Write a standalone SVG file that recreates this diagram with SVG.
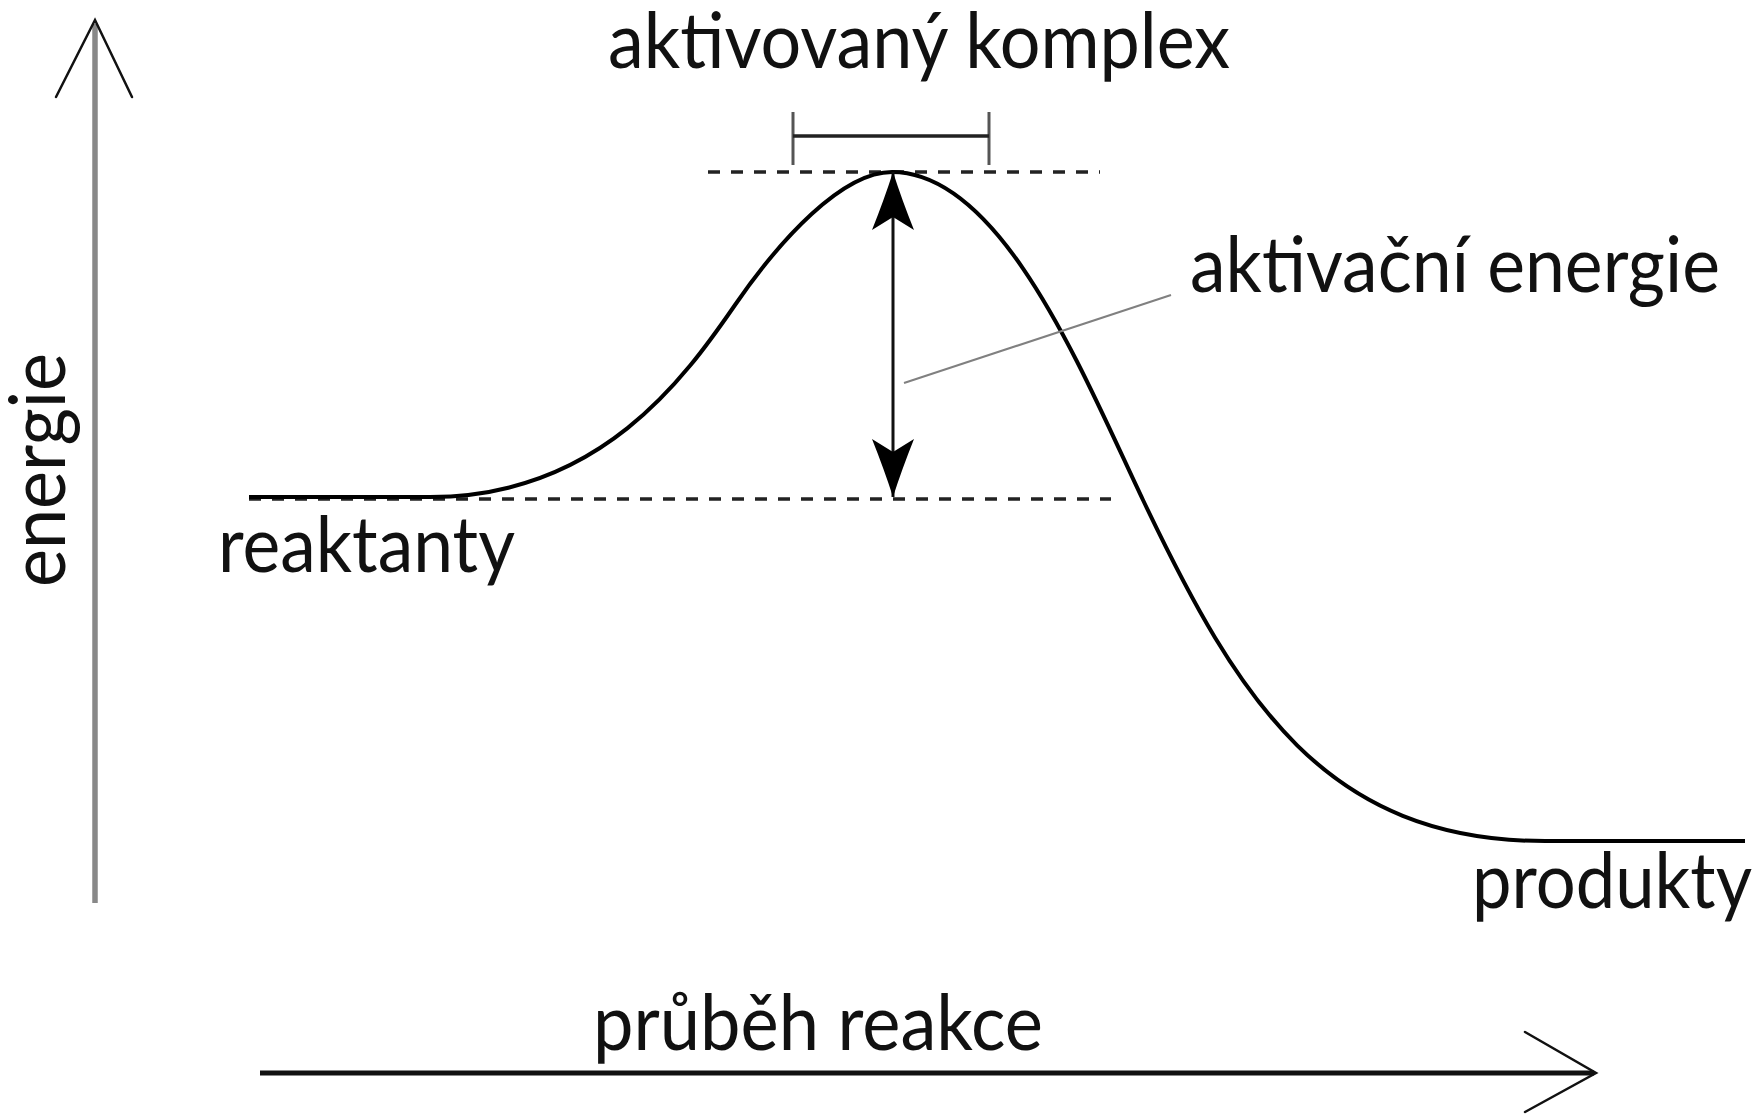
<svg xmlns="http://www.w3.org/2000/svg" width="1760" height="1114" viewBox="0 0 1760 1114">
  <style>
    .lbl { font-family: Lato, "Open Sans", "Noto Sans", sans-serif; font-size: 77px; fill: #111; }
    .curve { fill: none; stroke: #000; stroke-width: 4; stroke-linejoin: round; }
    .dash { fill: none; stroke: #222; stroke-width: 3.5; stroke-dasharray: 12 11; }
    .chev { fill: none; stroke: #111; stroke-width: 2.5; stroke-linecap: round; stroke-linejoin: miter; }
    .thin { fill: none; stroke: #111; stroke-width: 3; }
    .leader { fill: none; stroke: #808080; stroke-width: 2; }
    .tick { fill: none; stroke: #555; stroke-width: 3; }
  </style>
  <defs>
    <marker id="stealth" markerUnits="userSpaceOnUse" viewBox="0 0 60 42" markerWidth="60" markerHeight="42" refX="58" refY="21" orient="auto-start-reverse">
      <path d="M58,21 Q30,12 0,0 L13,21 L0,42 Q30,30 58,21 Z" fill="#000"/>
    </marker>
  </defs>
  <rect width="1760" height="1114" fill="#fff"/>

  <g id="connectors">
    <!-- vertical energy axis -->
    <line x1="95" y1="24" x2="95" y2="903" stroke="#888" stroke-width="5.5"/>
    <polyline class="chev" points="56,97 95,20 132,97"/>
    <!-- horizontal reaction progress axis -->
    <line x1="260" y1="1073" x2="1594" y2="1073" stroke="#111" stroke-width="5"/>
    <polyline class="chev" points="1525,1032 1596,1073 1525,1112"/>
    <!-- reference dashed levels -->
    <line class="dash" x1="708" y1="172" x2="1100" y2="172"/>
    <line class="dash" x1="249" y1="499" x2="1111" y2="499"/>
    <!-- energy profile curve -->
    <path class="curve" d="M249,497 L430,497 C600,497 685,377.5 735,305 C780,239.75 842,172 892,172 C1002,172 1083,374 1143,500 C1238,699.5 1325,841 1545,841 L1745,841"/>
    <!-- activation energy double arrow -->
    <line class="thin" x1="893" y1="497" x2="893" y2="172" marker-start="url(#stealth)" marker-end="url(#stealth)"/>
    <!-- leader line to label -->
    <line class="leader" x1="904" y1="383" x2="1171" y2="295"/>
    <!-- activated complex bracket -->
    <line class="tick" x1="793" y1="112" x2="793" y2="165"/>
    <line class="tick" x1="989" y1="112" x2="989" y2="165"/>
    <line x1="793" y1="136" x2="989" y2="136" stroke="#222" stroke-width="3.5"/>
  </g>

  <g id="aktivovany-komplex">
    <text class="lbl" x="608" y="68" textLength="622" lengthAdjust="spacingAndGlyphs">aktivovaný komplex</text>
  </g>
  <g id="aktivacni-energie">
    <text class="lbl" x="1190" y="292" textLength="530" lengthAdjust="spacingAndGlyphs">aktivační energie</text>
  </g>
  <g id="reaktanty">
    <text class="lbl" x="218" y="572" textLength="297" lengthAdjust="spacingAndGlyphs">reaktanty</text>
  </g>
  <g id="produkty">
    <text class="lbl" x="1752" y="908" text-anchor="end" textLength="280" lengthAdjust="spacingAndGlyphs">produkty</text>
  </g>
  <g id="axis-x-label">
    <text class="lbl" x="593" y="1050" textLength="450" lengthAdjust="spacingAndGlyphs">průběh reakce</text>
  </g>
  <g id="axis-y-label">
    <text class="lbl" transform="translate(65,587) rotate(-90)" x="0" y="0" textLength="234" lengthAdjust="spacingAndGlyphs">energie</text>
  </g>
</svg>
